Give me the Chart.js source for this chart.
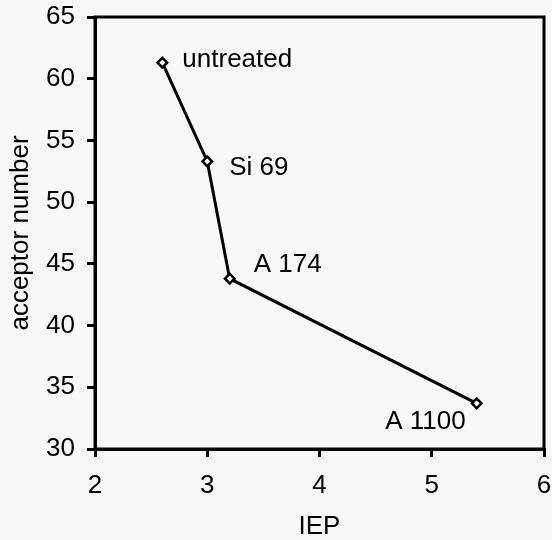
<!DOCTYPE html>
<html>
<head>
<meta charset="utf-8">
<script src="https://cdn.jsdelivr.net/npm/chart.js@4/dist/chart.umd.min.js"></script>
<style>
html,body{margin:0;padding:0;background:#f8f8f8;}
#wrap{width:552px;height:540px;}
</style>
</head>
<body>
<div id="wrap"><canvas id="c" width="552" height="540"></canvas></div>
<script>
const samples = ["untreated", "Si 69", "A 174", "A 1100"];
const iepValues = [2.6, 3.0, 3.2, 5.4];
const acceptorValues = [61.3, 53.3, 43.8, 33.7];
const xTicks = [2, 3, 4, 5, 6];
const yTicks = [30, 35, 40, 45, 50, 55, 60, 65];
const xTitle = "IEP";
const yTitle = "acceptor number";

// label placement style (offsets in px relative to point, alignment)
const labelStyle = [
  {dx: 20, dy: -3, align: 'left'},
  {dx: 22, dy: 6, align: 'left'},
  {dx: 24, dy: -14, align: 'left'},
  {dx: -11, dy: 18, align: 'right'}
];

const FONT = "'Liberation Sans', Arial, sans-serif";
const FS = 26;

const points = iepValues.map((x, i) => ({x: x, y: acceptorValues[i]}));

const frame = {
  id: 'frame',
  beforeDraw(chart) {
    const c = chart.ctx;
    c.save();
    c.fillStyle = '#f8f8f8';
    c.fillRect(0, 0, chart.width, chart.height);
    c.restore();
  },
  afterDatasetsDraw(chart) {
    const c = chart.ctx, a = chart.chartArea;
    c.save();
    c.strokeStyle = '#000';
    c.lineWidth = 3;
    c.strokeRect(a.left, a.top, a.right - a.left, a.bottom - a.top);
    const meta = chart.getDatasetMeta(0);
    c.fillStyle = '#000';
    c.font = FS + 'px ' + FONT;
    c.textBaseline = 'middle';
    meta.data.forEach((el, i) => {
      const s = labelStyle[i];
      c.textAlign = s.align;
      c.fillText(samples[i], el.x + s.dx, el.y + s.dy);
    });
    c.restore();
  }
};

new Chart(document.getElementById('c'), {
  type: 'scatter',
  data: {
    datasets: [{
      data: points,
      showLine: true,
      borderColor: '#000',
      borderWidth: 3,
      pointStyle: 'rectRot',
      pointRadius: 4.8,
      pointBorderWidth: 2.5,
      pointBackgroundColor: '#fff',
      pointBorderColor: '#000',
      tension: 0
    }]
  },
  options: {
    responsive: false,
    animation: false,
    events: [],
    layout: {padding: {top: 17, right: 8, left: 0, bottom: 0}},
    plugins: {legend: {display: false}, tooltip: {enabled: false}},
    scales: {
      x: {
        type: 'linear',
        min: xTicks[0], max: xTicks[xTicks.length - 1],
        afterBuildTicks(s) { s.ticks = xTicks.map(v => ({value: v})); },
        afterFit(s) { s.height = 91; s.paddingLeft = 0; s.paddingRight = 0; },
        grid: {drawOnChartArea: false, drawTicks: true, tickLength: 8, color: '#000', lineWidth: 3},
        border: {display: true, color: '#000', width: 3},
        ticks: {color: '#000', font: {family: FONT, size: FS}, padding: 13, maxRotation: 0},
        title: {display: true, text: xTitle, color: '#000', font: {family: FONT, size: FS, lineHeight: 1}, padding: {top: 0, bottom: 0}}
      },
      y: {
        type: 'linear',
        min: yTicks[0], max: yTicks[yTicks.length - 1],
        afterBuildTicks(s) { s.ticks = yTicks.map(v => ({value: v})); },
        afterFit(s) { s.width = 95; s.paddingTop = 0; s.paddingBottom = 0; },
        grid: {drawOnChartArea: false, drawTicks: true, tickLength: 8, color: '#000', lineWidth: 3},
        border: {display: true, color: '#000', width: 3},
        ticks: {color: '#000', font: {family: FONT, size: FS}, padding: 12},
        title: {display: true, text: yTitle, color: '#000', font: {family: FONT, size: FS, lineHeight: 1}, padding: {top: 8, bottom: 0}}
      }
    }
  },
  plugins: [frame]
});
</script>
</body>
</html>
